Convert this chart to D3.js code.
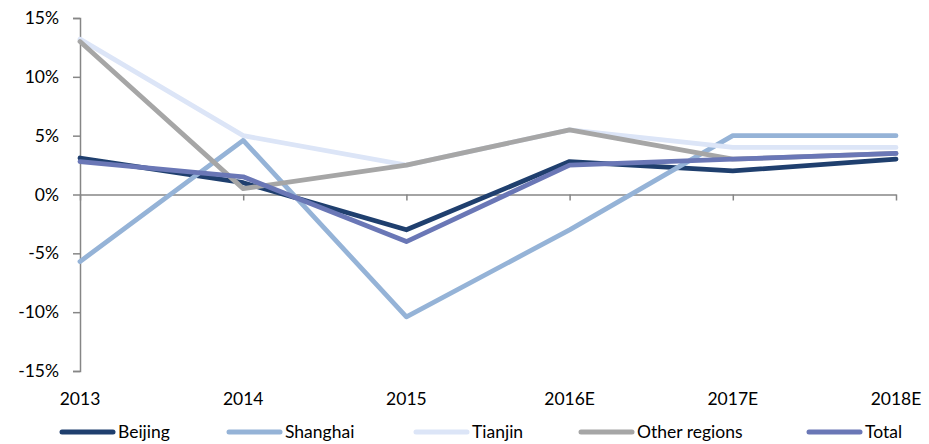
<!DOCTYPE html>
<html>
<head>
<meta charset="utf-8">
<script src="https://cdn.jsdelivr.net/npm/d3@7"></script>
<style>
  html, body { margin: 0; padding: 0; background: #fff; }
  svg { display: block; }
  text { font-family: Lato, "Open Sans", sans-serif; fill: #000; }
</style>
</head>
<body>
<svg id="chart" width="929" height="444"></svg>
<script>
// Annual growth by region (%)
const categories = ["2013", "2014", "2015", "2016E", "2017E", "2018E"];
const beijing  = [3.1, 1.0, -3.0, 2.8, 2.0, 3.0];
const shanghai = [-5.7, 4.6, -10.4, -3.0, 5.0, 5.0];
const tianjin  = [13.2, 5.0, 2.5, 5.5, 4.0, 4.0];
const otherRegions = [13.0, 0.5, 2.5, 5.5, 3.0, 3.5];
const total    = [2.8, 1.5, -4.0, 2.5, 3.0, 3.5];
const yTicks = [-15, -10, -5, 0, 5, 10, 15];

const seriesNames = ["Beijing", "Shanghai", "Tianjin", "Other regions", "Total"];
const seriesValues = [beijing, shanghai, tianjin, otherRegions, total];
const seriesColors = ["#1f3f6e", "#95b3d7", "#dce5f7", "#a6a6a6", "#6a77b6"];

const svg = d3.select("#chart");
const margin = { left: 80, right: 33, top: 18, bottom: 73 };
const W = 929, H = 444;
const fontSize = "17.5px";

const x = d3.scalePoint().domain(categories).range([margin.left, W - margin.right]);
const y = d3.scaleLinear().domain([-15, 15]).range([H - margin.bottom, margin.top]);

const axisColor = "#868686";

// Y axis
const yAxis = svg.append("g")
  .attr("transform", `translate(${margin.left},0)`)
  .call(d3.axisLeft(y).tickValues(yTicks).tickSize(7).tickPadding(14).tickFormat(d => d + "%"));
yAxis.select(".domain").attr("stroke", axisColor).attr("stroke-width", 1.5);
yAxis.selectAll(".tick line").attr("stroke", axisColor).attr("stroke-width", 1.5);
yAxis.selectAll(".tick text").style("font-size", fontSize).attr("fill", "#000");

// Zero line with category ticks
const xAxis = svg.append("g")
  .attr("transform", `translate(0,${y(0)})`)
  .call(d3.axisBottom(x).tickSize(6).tickSizeOuter(0).tickFormat(""));
xAxis.select(".domain").attr("stroke", axisColor).attr("stroke-width", 1.5);
xAxis.selectAll(".tick line").attr("stroke", axisColor).attr("stroke-width", 1.5);

// Category labels along the bottom
svg.append("g").selectAll("text")
  .data(categories)
  .join("text")
  .attr("x", d => x(d))
  .attr("y", 405)
  .attr("text-anchor", "middle")
  .style("font-size", fontSize)
  .text(d => d);

// Lines
const line = d3.line()
  .x((d, i) => x(categories[i]))
  .y(d => y(d));

svg.append("g").selectAll("path")
  .data(seriesValues)
  .join("path")
  .attr("d", d => line(d))
  .attr("fill", "none")
  .attr("stroke", (d, i) => seriesColors[i])
  .attr("stroke-width", 4.8)
  .attr("stroke-linejoin", "round")
  .attr("stroke-linecap", "round");

// Legend
const legendX = [60, 227, 414, 579, 807];
const legend = svg.append("g").selectAll("g")
  .data(seriesNames)
  .join("g")
  .attr("transform", (d, i) => `translate(${legendX[i]},432)`);
legend.append("line")
  .attr("x1", 2).attr("x2", 53).attr("y1", 0).attr("y2", 0)
  .attr("stroke", (d, i) => seriesColors[i])
  .attr("stroke-width", 5)
  .attr("stroke-linecap", "round");
legend.append("text")
  .attr("x", 58).attr("y", 6)
  .style("font-size", fontSize)
  .text(d => d);
</script>
</body>
</html>
